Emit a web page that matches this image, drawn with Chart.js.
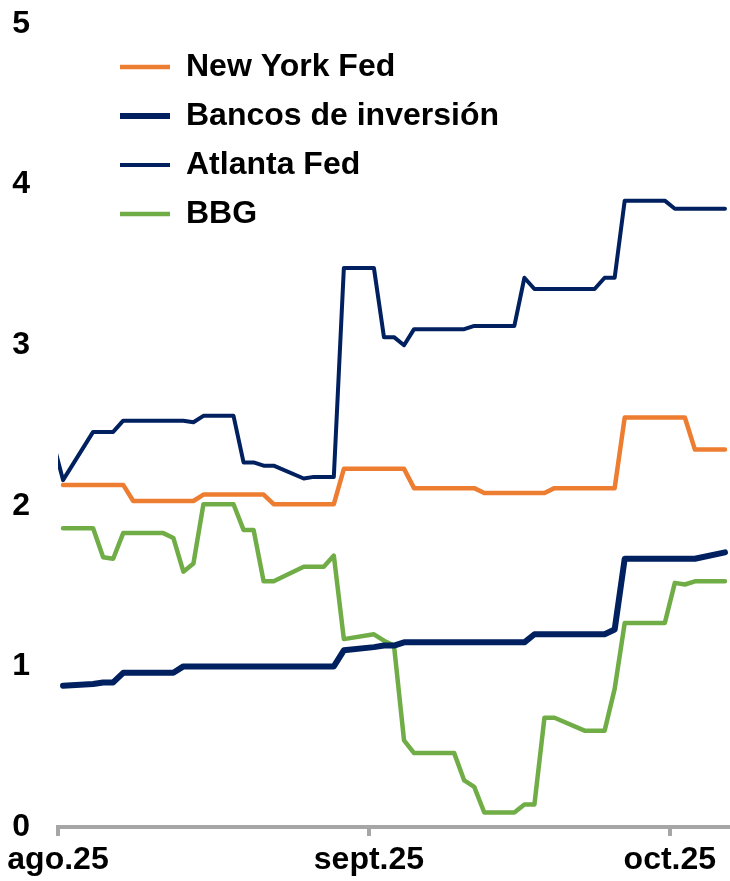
<!DOCTYPE html>
<html>
<head>
<meta charset="utf-8">
<script src="https://cdn.jsdelivr.net/npm/chart.js@4.4.1/dist/chart.umd.min.js"></script>
<style>
    html, body { margin: 0; padding: 0; background: #fff; }
    #wrap { width: 730px; height: 881px; position: relative; }
</style>
</head>
<body>
<div id="wrap"><canvas id="chart"></canvas></div>
<script>
// ─── Data (business days) ─────────────────────────────────────────────────────

const dates = [
    '2025-07-31',
    '2025-08-01', '2025-08-04', '2025-08-05', '2025-08-06', '2025-08-07', '2025-08-08',
    '2025-08-11', '2025-08-12', '2025-08-13', '2025-08-14', '2025-08-15',
    '2025-08-18', '2025-08-19', '2025-08-20', '2025-08-21', '2025-08-22',
    '2025-08-25', '2025-08-26', '2025-08-27', '2025-08-28', '2025-08-29',
    '2025-09-01', '2025-09-02', '2025-09-03', '2025-09-04', '2025-09-05',
    '2025-09-08', '2025-09-09', '2025-09-10', '2025-09-11', '2025-09-12',
    '2025-09-15', '2025-09-16', '2025-09-17', '2025-09-18', '2025-09-19',
    '2025-09-22', '2025-09-23', '2025-09-24', '2025-09-25', '2025-09-26',
    '2025-09-29', '2025-09-30', '2025-10-01', '2025-10-02', '2025-10-03',
    '2025-10-06',
];

const newYorkFed = [
    null,
    2.13, 2.13, 2.13, 2.13, 2.13, 2.03,
    2.03, 2.03, 2.03, 2.03, 2.07,
    2.07, 2.07, 2.07, 2.07, 2.01,
    2.01, 2.01, 2.01, 2.01, 2.23,
    2.23, 2.23, 2.23, 2.23, 2.11,
    2.11, 2.11, 2.11, 2.11, 2.08,
    2.08, 2.08, 2.08, 2.08, 2.11,
    2.11, 2.11, 2.11, 2.11, 2.55,
    2.55, 2.55, 2.55, 2.55, 2.35,
    2.35,
];

const bancosInversion = [
    null,
    0.88, 0.89, 0.90, 0.90, 0.96, 0.96,
    0.96, 0.96, 1.00, 1.00, 1.00,
    1.00, 1.00, 1.00, 1.00, 1.00,
    1.00, 1.00, 1.00, 1.00, 1.10,
    1.12, 1.13, 1.13, 1.15, 1.15,
    1.15, 1.15, 1.15, 1.15, 1.15,
    1.15, 1.15, 1.20, 1.20, 1.20,
    1.20, 1.20, 1.20, 1.23, 1.67,
    1.67, 1.67, 1.67, 1.67, 1.67,
    1.71,
];

const atlantaFed = [
    2.40,
    2.16, 2.46, 2.46, 2.46, 2.53, 2.53,
    2.53, 2.53, 2.53, 2.52, 2.56,
    2.56, 2.27, 2.27, 2.25, 2.25,
    2.17, 2.18, 2.18, 2.18, 3.48,
    3.48, 3.05, 3.05, 3.00, 3.10,
    3.10, 3.10, 3.10, 3.12, 3.12,
    3.12, 3.42, 3.35, 3.35, 3.35,
    3.35, 3.35, 3.42, 3.42, 3.90,
    3.90, 3.90, 3.85, 3.85, 3.85,
    3.85,
];

const bbg = [
    null,
    1.86, 1.86, 1.68, 1.67, 1.83, 1.83,
    1.83, 1.80, 1.59, 1.64, 2.01,
    2.01, 1.85, 1.85, 1.53, 1.53,
    1.62, 1.62, 1.62, 1.69, 1.17,
    1.20, 1.16, 1.13, 0.54, 0.46,
    0.46, 0.46, 0.29, 0.25, 0.09,
    0.09, 0.14, 0.14, 0.68, 0.68,
    0.60, 0.60, 0.60, 0.86, 1.27,
    1.27, 1.27, 1.52, 1.51, 1.53,
    1.53,
];

const tickDates = ['2025-08-01', '2025-09-01', '2025-10-01'];
const tickLabels = ['ago.25', 'sept.25', 'oct.25'];
const axisEndDate = '2025-10-07';

// ─── Helpers ──────────────────────────────────────────────────────────────────

const origin = Date.parse('2025-08-01T00:00:00Z');
const dayOf = s => (Date.parse(s + 'T00:00:00Z') - origin) / 864e5;
const DAY_CENTER = 0.5; // points sit mid-day, ticks at month starts

const toPoints = series => dates.map((d, i) => ({ x: dayOf(d) + DAY_CENTER, y: series[i] }));

const colors = {
    orange: '#ED7D31',
    navy: '#002060',
    green: '#70AD47',
    axis: '#A6A6A6',
};

const font = { family: "'Liberation Sans', Arial, sans-serif", size: 32, weight: 'bold' };

Chart.defaults.font = font;
Chart.defaults.color = '#000';

// the 'chartArea' legend resets its top to 0, so place it inside the plot here
const legendShift = {
    id: 'legendShift',
    afterLayout(chart) {
        chart.legend.left = chart.chartArea.left + 45;
        chart.legend.top = chart.chartArea.top + 10;
    },
};

const line = (label, series, color, width) => ({
    label,
    data: toPoints(series),
    borderColor: color,
    backgroundColor: color,
    borderWidth: width,
    pointRadius: 0,
    tension: 0,
    borderJoinStyle: 'round',
    borderCapStyle: 'round',
});

new Chart(document.getElementById('chart'), {
    type: 'line',
    data: {
        datasets: [
            line('New York Fed', newYorkFed, colors.orange, 4.5),
            line('Bancos de inversión', bancosInversion, colors.navy, 6),
            line('Atlanta Fed', atlantaFed, colors.navy, 4),
            line('BBG', bbg, colors.green, 4.5),
        ],
    },
    options: {
        responsive: true,
        maintainAspectRatio: false,
        animation: false,
        layout: { padding: { top: 24, right: 0, left: 0, bottom: 0 } },
        plugins: {
            legend: {
                position: 'chartArea',
                align: 'start',
                labels: {
                    usePointStyle: true,
                    pointStyle: 'line',
                    pointStyleWidth: 50,
                    boxHeight: 32,
                    padding: 17,
                    color: '#000',
                    font,
                },
            },
            tooltip: { enabled: false },
        },
        scales: {
            x: {
                type: 'linear',
                min: 0,
                max: dayOf(axisEndDate),
                afterBuildTicks: scale => {
                    scale.ticks = tickDates.map(d => ({ value: dayOf(d) }));
                },
                afterFit: scale => { scale.height = 54; },
                ticks: {
                    autoSkip: false,
                    maxRotation: 0,
                    padding: 5,
                    color: '#000',
                    callback: (v, i) => tickLabels[i],
                },
                grid: {
                    drawOnChartArea: false,
                    drawTicks: true,
                    tickLength: 9,
                    color: colors.axis,
                    lineWidth: 4,
                },
                border: { display: true, color: colors.axis, width: 4 },
            },
            y: {
                min: 0,
                max: 5,
                afterFit: scale => {
                    scale.width = 58;
                    scale.paddingTop = 0;
                    scale.paddingBottom = 0;
                },
                ticks: { stepSize: 1, padding: 28, color: '#000' },
                grid: { display: false, drawTicks: false },
                border: { display: false },
            },
        },
    },
    plugins: [legendShift],
});
</script>
</body>
</html>
